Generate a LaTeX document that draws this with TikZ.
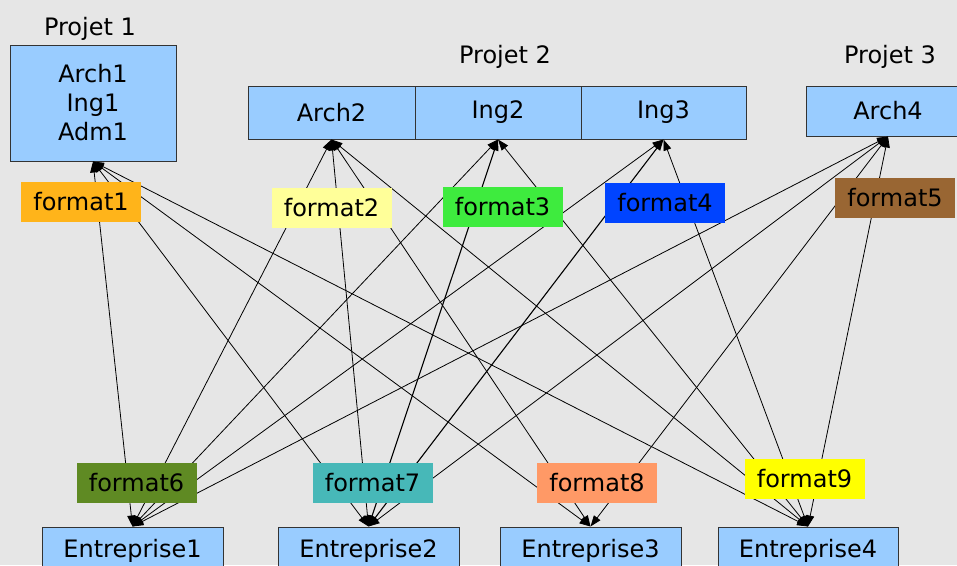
\documentclass[tikz,border=0pt]{standalone}
\usepackage{fontspec}
\setmainfont{DejaVu Sans}
\usetikzlibrary{arrows.meta}

\definecolor{bggray}{HTML}{E6E6E6}
\definecolor{boxblue}{HTML}{99CCFF}
\definecolor{boxline}{HTML}{333333}
\definecolor{fmtorange}{HTML}{FFB41A}
\definecolor{fmtpale}{HTML}{FFFF99}
\definecolor{fmtgreen}{HTML}{3EEB3E}
\definecolor{fmtblue}{HTML}{0044FF}
\definecolor{fmtbrown}{HTML}{996633}
\definecolor{fmtolive}{HTML}{5F8A23}
\definecolor{fmtteal}{HTML}{47B8B8}
\definecolor{fmtsalmon}{HTML}{FF9966}
\definecolor{fmtyellow}{HTML}{FFFF00}

\tikzset{
  box/.style={draw=boxline, fill=boxblue, line width=1pt, inner sep=0pt},
  fmt/.style={inner sep=0pt, minimum width=120pt, minimum height=40pt},
  link/.style={{Triangle[length=11pt,width=8pt]}-{Triangle[length=11pt,width=8pt]}, line width=0.8pt},
}

\begin{document}
\begin{tikzpicture}[x=1pt, y=-1pt, font=\fontsize{24}{29}\selectfont] % one unit per pixel
        % Background
        \fill[bggray] (0,0) rectangle (957,565);
        \useasboundingbox (0,0) rectangle (957,565);
		% Projects
        \node (projet1) at (90,29) {Projet 1};
        \node (projet2) at (505,57) {Projet 2};
        \node (projet3) at (890,57) {Projet 3};
        \node[box, minimum width=166pt, minimum height=116pt, align=center] (proj1) at (93,103) {Arch1\\Ing1\\ Adm1};
        \node[box, minimum width=167pt, minimum height=53pt] (arch2) at (331.5,112.5) {Arch2};
        \node[box, minimum width=166pt, minimum height=53pt] (ing2) at (498,112.5) {Ing2};
        \node[box, minimum width=165pt, minimum height=53pt] (ing3) at (663.5,112.5) {Ing3};
        \node[box, minimum width=164pt, minimum height=50pt] (arch4) at (888,111) {Arch4};
		% Companies
        \node[box, minimum width=181pt, minimum height=48pt] (ent1) at (132.5,551) {Entreprise1};
        \node[box, minimum width=181pt, minimum height=48pt] (ent2) at (368.5,551) {Entreprise2};
        \node[box, minimum width=181pt, minimum height=48pt] (ent3) at (590.5,551) {Entreprise3};
        \node[box, minimum width=180pt, minimum height=48pt] (ent4) at (808,551) {Entreprise4};
		% Links
        \foreach \p in {proj1,arch2,arch4}
          \foreach \e in {ent1,ent2,ent3,ent4}
            \draw[link] (\p.south) -- (\e.north);
        \foreach \p in {ing2,ing3} {
          \draw[link] (\p.south) -- (ent1.north);
          \draw[link, line width=1.1pt] (\p.south) -- (ent2.north);
          \draw[link] (\p.south) -- (ent4.north);
        }
		% Formats
        \node[fmt, fill=fmtorange] (format1) at (81,202) {format1};
        \node[fmt, fill=fmtpale] (format2) at (331.5,207.5) {format2};
        \node[fmt, fill=fmtgreen] (format3) at (502.5,207) {format3};
        \node[fmt, fill=fmtblue] (format4) at (665,203) {format4};
        \node[fmt, fill=fmtbrown] (format5) at (895,198) {format5};
        \node[fmt, fill=fmtolive] (format6) at (136.5,482.5) {format6};
        \node[fmt, fill=fmtteal] (format7) at (372.5,483) {format7};
        \node[fmt, fill=fmtsalmon] (format8) at (597,482.5) {format8};
        \node[fmt, fill=fmtyellow] (format9) at (804.5,479) {format9};
    \end{tikzpicture}
\end{document}
